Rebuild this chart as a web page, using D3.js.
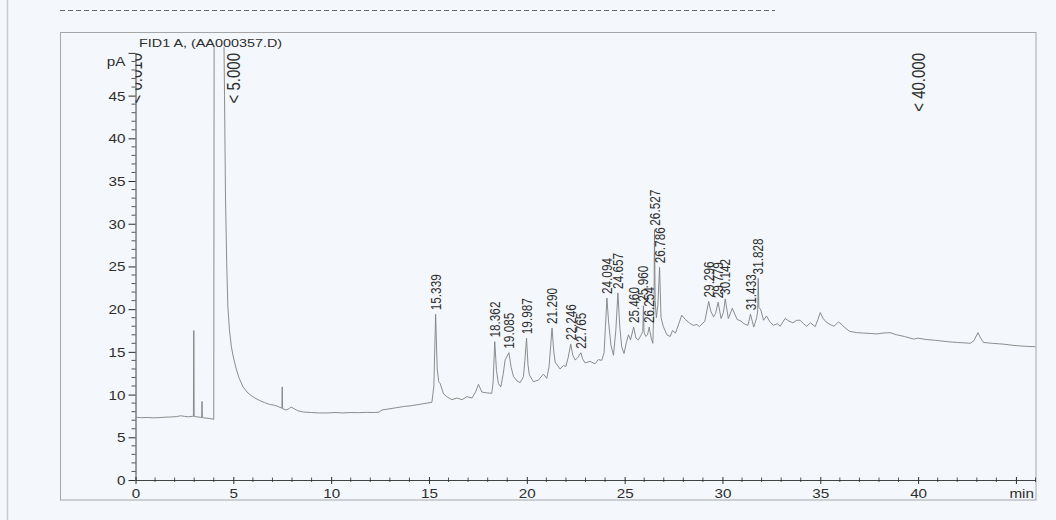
<!DOCTYPE html>
<html>
<head>
<meta charset="utf-8">
<script src="https://cdn.jsdelivr.net/npm/d3@7"></script>
<style>
  html, body { margin: 0; padding: 0; background: #f4f7fb; }
  svg { display: block; font-family: "Liberation Sans", Arial, sans-serif; }
</style>
</head>
<body>
<svg id="chart" width="1056" height="520"></svg>
<script>
// FID1 A signal: [retention time (min), signal (pA)]
const trace = [
  [0.00, 7.35], [0.30, 7.30], [0.60, 7.32], [0.90, 7.28], [1.20, 7.30], [1.50, 7.35],
  [1.80, 7.38], [2.10, 7.42], [2.30, 7.52], [2.50, 7.45], [2.70, 7.40], [2.90, 7.45],
  [2.96, 7.45], [2.98, 17.5], [3.00, 7.45], [3.10, 7.40], [3.30, 7.35], [3.38, 7.30],
  [3.40, 9.2], [3.42, 7.30], [3.60, 7.25], [3.80, 7.20], [4.00, 7.10], [4.02, 56],
  [4.50, 56], [4.55, 45.0], [4.60, 33.0], [4.66, 25.5], [4.72, 20.3], [4.80, 17.6],
  [4.90, 15.6], [5.00, 14.4], [5.15, 13.0], [5.30, 11.9], [5.50, 10.9], [5.70, 10.3],
  [5.90, 9.9], [6.10, 9.6], [6.35, 9.3], [6.60, 9.05], [6.85, 8.85], [7.10, 8.75],
  [7.30, 8.6], [7.48, 8.4], [7.50, 10.9], [7.52, 8.35], [7.70, 8.2], [7.85, 8.35],
  [7.95, 8.55], [8.10, 8.35], [8.30, 8.1], [8.60, 7.95], [9.00, 7.9], [9.40, 7.85],
  [9.80, 7.85], [10.20, 7.9], [10.60, 7.85], [11.00, 7.9], [11.40, 7.88], [11.80, 7.92],
  [12.20, 7.9], [12.45, 7.95], [12.60, 8.2], [12.90, 8.3], [13.30, 8.45], [13.70, 8.6],
  [14.10, 8.7], [14.50, 8.85], [14.90, 9.0], [15.15, 9.1], [15.25, 11.0], [15.339, 19.4],
  [15.42, 13.0], [15.50, 11.5], [15.57, 11.3], [15.74, 10.1], [15.91, 9.75], [16.17, 9.4],
  [16.43, 9.6], [16.69, 9.4], [16.93, 9.75], [17.20, 9.6], [17.40, 10.4], [17.53, 11.2],
  [17.70, 10.3], [17.95, 10.2], [18.21, 10.15], [18.28, 11.5], [18.362, 16.2], [18.45, 12.8],
  [18.55, 11.3], [18.67, 10.9], [18.80, 12.5], [18.89, 14.05], [19.085, 14.9], [19.20, 13.2],
  [19.32, 12.1], [19.50, 11.6], [19.66, 11.4], [19.83, 12.1], [19.90, 14.0], [19.987, 16.6],
  [20.06, 13.5], [20.13, 12.3], [20.34, 11.5], [20.60, 11.7], [20.85, 12.4], [21.02, 11.9],
  [21.14, 13.3], [21.29, 17.8], [21.38, 15.0], [21.45, 13.8], [21.70, 13.0], [21.87, 13.4],
  [22.00, 13.3], [22.12, 14.4], [22.246, 15.9], [22.35, 14.6], [22.47, 14.05], [22.60, 14.3],
  [22.765, 14.9], [22.85, 14.2], [22.98, 13.7], [23.23, 13.9], [23.49, 13.6], [23.66, 14.1],
  [23.83, 14.0], [23.95, 14.9], [24.02, 18.0], [24.094, 21.3], [24.18, 18.5], [24.30, 15.8],
  [24.43, 14.6], [24.55, 17.5], [24.657, 21.9], [24.75, 18.0], [24.85, 15.6], [24.97, 14.8],
  [25.10, 16.2], [25.20, 17.0], [25.30, 16.4], [25.46, 17.9], [25.58, 16.6], [25.70, 16.4],
  [25.85, 17.0], [25.93, 17.4], [25.96, 20.4], [25.99, 17.3], [26.08, 16.8], [26.17, 17.0],
  [26.254, 17.9], [26.36, 16.6], [26.44, 16.0], [26.50, 20.5], [26.527, 29.3], [26.56, 21.0],
  [26.62, 19.0], [26.70, 20.5], [26.786, 24.9], [26.86, 19.0], [26.98, 17.95], [27.16, 17.0],
  [27.33, 16.8], [27.45, 17.5], [27.60, 17.2], [27.80, 18.5], [27.92, 19.3], [28.10, 18.8],
  [28.30, 18.4], [28.50, 18.1], [28.70, 18.2], [28.82, 17.95], [29.10, 18.6], [29.296, 20.9],
  [29.40, 19.8], [29.54, 19.1], [29.65, 19.5], [29.779, 20.8], [29.93, 18.9], [30.05, 19.6],
  [30.142, 21.2], [30.30, 18.9], [30.50, 20.1], [30.75, 18.8], [30.95, 18.6], [31.10, 18.3],
  [31.30, 18.1], [31.433, 19.4], [31.60, 17.9], [31.75, 19.0], [31.80, 19.8], [31.828, 23.6],
  [31.86, 20.2], [31.95, 20.0], [32.10, 18.7], [32.25, 19.2], [32.40, 18.6], [32.60, 18.1],
  [32.80, 18.3], [32.95, 18.0], [33.20, 18.9], [33.40, 18.6], [33.60, 18.4], [33.80, 18.7],
  [33.97, 18.7], [34.15, 18.3], [34.30, 18.0], [34.50, 18.4], [34.74, 17.95], [34.88, 18.8],
  [35.00, 19.6], [35.15, 18.9], [35.30, 18.5], [35.50, 18.2], [35.70, 18.0], [35.93, 18.5],
  [36.10, 18.2], [36.27, 17.8], [36.50, 17.4], [36.87, 17.25], [37.20, 17.2], [37.60, 17.15],
  [37.90, 17.1], [38.20, 17.2], [38.57, 17.25], [38.90, 17.0], [39.30, 16.8], [39.77, 16.5],
  [40.00, 16.6], [40.40, 16.45], [40.90, 16.35], [41.47, 16.2], [42.00, 16.1], [42.40, 16.05],
  [42.66, 16.0], [42.85, 16.3], [43.06, 17.25], [43.20, 16.6], [43.34, 16.1], [43.80, 16.0],
  [44.37, 15.9], [44.90, 15.75], [45.50, 15.65], [46.00, 15.6]
];

// integrated peaks (retention times, min)
const peakTimes = [15.339, 18.362, 19.085, 19.987, 21.290, 22.246, 22.765, 24.094, 24.657,
  25.460, 25.960, 26.254, 26.527, 26.786, 29.296, 29.779, 30.142, 31.433, 31.828];

// timed events
const eventTimes = [0.010, 5.000, 40.000];

const xMajorTicks = [0, 5, 10, 15, 20, 25, 30, 35, 40, 45];
const xTickLabels = ["0", "5", "10", "15", "20", "25", "30", "35", "40", ""];
const yMajorTicks = [0, 5, 10, 15, 20, 25, 30, 35, 40, 45, 50];
const yTickLabels = ["0", "5", "10", "15", "20", "25", "30", "35", "40", "45", "pA"];
const titleText = "FID1 A,  (AA000357.D)";
const xUnit = "min";

const svg = d3.select("#chart");
const STRETCH = 1.22;   // printout glyphs are wider than tall

const x = d3.scaleLinear().domain([0, 46]).range([135.5, 1035.5]);
const y = d3.scaleLinear().domain([0, 50]).range([480, 52.9]);

const ink = "#2e2e2e";
const traceInk = "#808080";

// page frame and header rule
svg.append("line").attr("x1", 7.5).attr("x2", 7.5).attr("y1", 0).attr("y2", 520)
  .attr("stroke", "#c9cbd0").attr("stroke-width", 1.5);
svg.append("line").attr("x1", 60).attr("x2", 775).attr("y1", 10.5).attr("y2", 10.5)
  .attr("stroke", "#666").attr("stroke-dasharray", "5,3");
svg.append("rect").attr("x", 60.5).attr("y", 32.5).attr("width", 975.5).attr("height", 467.5)
  .attr("fill", "none").attr("stroke", "#a4a6aa").attr("stroke-width", 1);

// title
svg.append("text").attr("transform", `translate(139,46.5) scale(${STRETCH},1)`)
  .attr("font-size", 11.8).attr("fill", ink).text(titleText);

// clip region for trace and event labels
const defs = svg.append("defs");
defs.append("clipPath").attr("id", "plotClip").append("rect")
  .attr("x", x(0)).attr("y", 47).attr("width", x(46) - x(0)).attr("height", 480 - 47);

// minor ticks
const xMinor = d3.range(0, 47, 1).filter(v => v % 5 !== 0);
svg.append("g").selectAll("line").data(xMinor).join("line")
  .attr("x1", d => x(d)).attr("x2", d => x(d)).attr("y1", 477.5).attr("y2", 482)
  .attr("stroke", ink).attr("stroke-width", 0.8);
const yMinor = d3.range(0, 51, 1).filter(v => v % 5 !== 0);
svg.append("g").selectAll("line").data(yMinor).join("line")
  .attr("x1", x(0) - 4).attr("x2", x(0)).attr("y1", d => y(d)).attr("y2", d => y(d))
  .attr("stroke", ink).attr("stroke-width", 0.8);

// x axis
const xAxis = svg.append("g").attr("transform", "translate(0,480)")
  .call(d3.axisBottom(x).tickValues(xMajorTicks)
    .tickFormat((d, i) => xTickLabels[i]).tickSizeInner(4).tickSizeOuter(0).tickPadding(6));
xAxis.select(".domain").attr("stroke", ink).attr("stroke-width", 0.9);
xAxis.selectAll(".tick line").attr("y1", -3).attr("y2", 4).attr("stroke", ink);
xAxis.selectAll(".tick text").attr("fill", ink).attr("font-size", 12.5)
  .attr("font-family", null).attr("y", null).attr("dy", null)
  .attr("transform", `translate(0,18) scale(${STRETCH},1)`);

svg.append("text").attr("transform", `translate(1034,498) scale(${STRETCH},1)`)
  .attr("text-anchor", "end").attr("font-size", 12.5).attr("fill", ink).text(xUnit);

// y axis
const yAxis = svg.append("g").attr("transform", `translate(${x(0)},0)`)
  .call(d3.axisLeft(y).tickValues(yMajorTicks)
    .tickFormat((d, i) => yTickLabels[i]).tickSizeInner(7).tickSizeOuter(0));
yAxis.select(".domain").attr("stroke", ink).attr("stroke-width", 0.9);
yAxis.selectAll(".tick line").attr("stroke", ink);
yAxis.selectAll(".tick text").attr("fill", ink).attr("font-size", 12.5)
  .attr("font-family", null).attr("x", null).attr("dy", null)
  .attr("transform", d => `translate(-10,${d === 50 ? 13 : 4.5}) scale(${STRETCH},1)`);

// signal trace
const plot = svg.append("g").attr("clip-path", "url(#plotClip)");
plot.append("path").datum(trace)
  .attr("d", d3.line().x(d => x(d[0])).y(d => y(d[1])))
  .attr("fill", "none").attr("stroke", traceInk).attr("stroke-width", 0.9)
  .attr("stroke-linejoin", "round");

// timed-event markers
plot.selectAll("text.event").data(eventTimes).join("text").attr("class", "event")
  .attr("transform", d => `translate(${x(d)},53) scale(${STRETCH},1) rotate(-90)`)
  .attr("text-anchor", "end").attr("dy", "0.35em").attr("font-size", 15).attr("fill", ink)
  .text(d => "< " + d.toFixed(3));

// peak labels above each apex
const apexOf = t => trace.find(p => Math.abs(p[0] - t) < 1e-6)[1];
svg.append("g").selectAll("text").data(peakTimes).join("text")
  .attr("transform", d => `translate(${x(d)},${y(apexOf(d)) - 4}) scale(${STRETCH},1) rotate(-90)`)
  .attr("dy", "0.35em").attr("font-size", 11.8).attr("fill", ink)
  .text(d => d.toFixed(3));
</script>
</body>
</html>
